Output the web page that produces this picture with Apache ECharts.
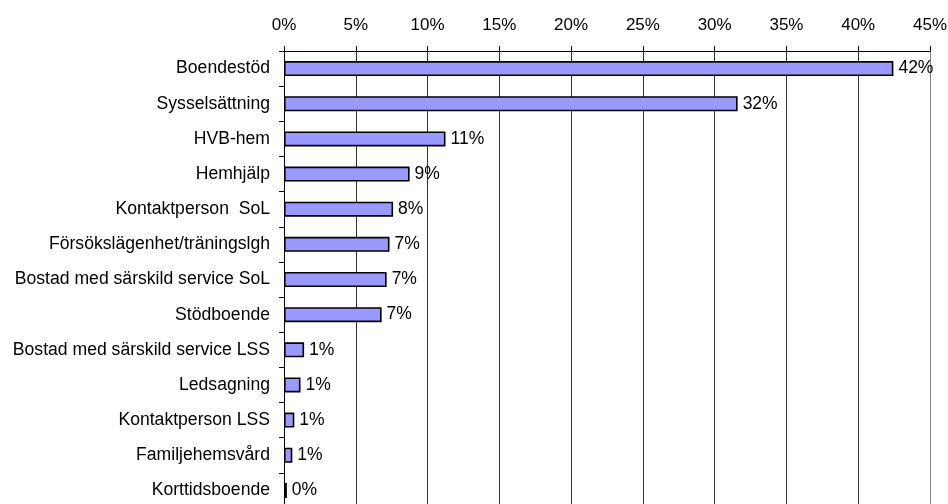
<!DOCTYPE html>
<html>
<head>
<meta charset="utf-8">
<script src="https://cdn.jsdelivr.net/npm/echarts@6/dist/echarts.min.js"></script>
<style>
html,body{margin:0;padding:0;background:#fff;}
#chart{width:948px;height:504px;}
</style>
</head>
<body>
<div id="chart"></div>
<script>
var categories = ["Boendestöd","Sysselsättning","HVB-hem","Hemhjälp","Kontaktperson  SoL","Försökslägenhet/träningslgh","Bostad med särskild service SoL","Stödboende","Bostad med särskild service LSS","Ledsagning","Kontaktperson LSS","Familjehemsvård","Korttidsboende"];
var values = [42.45, 31.6, 11.25, 8.75, 7.6, 7.35, 7.15, 6.8, 1.4, 1.15, 0.72, 0.58, 0.2];
var xTicks = {min: 0, max: 45, interval: 5};

var chart = echarts.init(document.getElementById('chart'), null, {renderer: 'canvas'});
var font = 'Liberation Sans, Arial, sans-serif';
chart.setOption({
  animation: false,
  backgroundColor: '#ffffff',
  grid: {left: 284, right: 18, top: 51, height: 457, containLabel: false, outerBoundsMode: 'none'},
  xAxis: {
    type: 'value',
    position: 'top',
    min: xTicks.min, max: xTicks.max, interval: xTicks.interval,
    axisLine: {show: true, lineStyle: {color: '#000', width: 1}},
    axisTick: {show: true, length: 5, lineStyle: {color: '#000'}},
    axisLabel: {formatter: '{value}%', color: '#000', fontFamily: font, fontSize: 17, margin: 17},
    splitLine: {show: true, lineStyle: {color: ['#000','#333','#333','#333','#333','#333','#333','#333','#333','#808080'], width: 1}}
  },
  yAxis: {
    type: 'category',
    data: categories,
    inverse: true,
    axisLine: {show: true, lineStyle: {color: '#000', width: 1}},
    axisTick: {show: true, length: 5, lineStyle: {color: '#000'}},
    axisLabel: {color: '#000', fontFamily: font, fontSize: 17.6, margin: 14}
  },
  series: [{
    type: 'bar',
    data: values,
    barWidth: 15,
    itemStyle: {color: '#9999ff', borderColor: '#000', borderWidth: 1.6},
    label: {
      show: true, position: 'right', distance: 5,
      color: '#000', fontFamily: font, fontSize: 17.5,
      formatter: function(p){ return Math.round(p.value) + '%'; }
    }
  }]
});
</script>
</body>
</html>
